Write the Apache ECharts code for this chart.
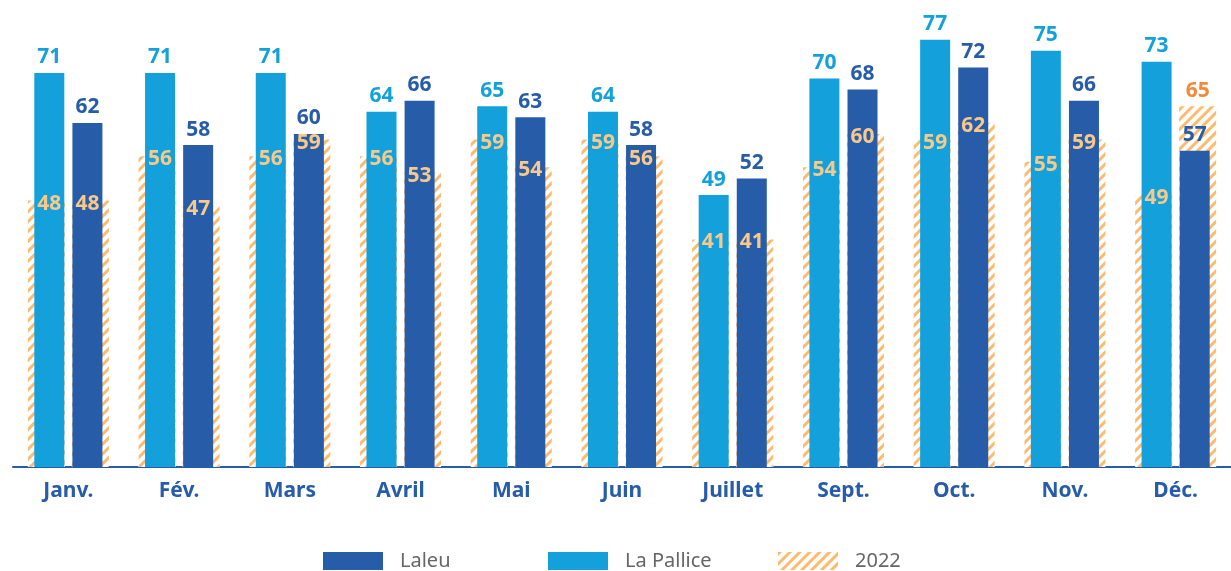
<!DOCTYPE html>
<html>
<head>
<meta charset="utf-8">
<script src="https://cdn.jsdelivr.net/npm/echarts@6/dist/echarts.min.js"></script>
<style>
  html, body { margin: 0; padding: 0; background: #fff; }
  #chart { width: 1231px; height: 571px; }
</style>
</head>
<body>
<div id="chart"></div>
<script>
// mois affichés (pas d'août)
var months = ['Janv.', 'Fév.', 'Mars', 'Avril', 'Mai', 'Juin', 'Juillet', 'Sept.', 'Oct.', 'Nov.', 'Déc.'];
var laPallice = [71, 71, 71, 64, 65, 64, 49, 70, 77, 75, 73];
var laleu = [62, 58, 60, 66, 63, 58, 52, 68, 72, 66, 57];
var pallice2022 = [48, 56, 56, 56, 59, 59, 41, 54, 59, 55, 49];
var laleu2022 = [48, 47, 59, 53, 54, 56, 41, 60, 62, 59, 65];

var FONT = 'Noto Sans';
var DARK = '#265ca8';
var LIGHT = '#14a1db';
var HATCH = '#fdbb70';

var hatch = {
  symbol: 'rect',
  symbolSize: 1,
  color: HATCH,
  dashArrayX: [1, 0],
  dashArrayY: [3, 4],
  rotation: -Math.PI / 4
};

// labels 2022 : dans le haut de la barre, sauf si 2022 dépasse la barre de l'année
function labels2022(vals, cur) {
  return vals.map(function (v, i) {
    if (v > cur[i]) {
      return {
        value: v,
        label: { position: 'top', distance: 5, verticalAlign: 'bottom', offset: [3, 0], color: '#f28a3c' }
      };
    }
    return v;
  });
}

var myChart = echarts.init(document.getElementById('chart'));

var hiddenAxis = function () {
  return { type: 'category', data: months, show: false };
};

var option = {
  backgroundColor: '#fff',
  animation: false,
  grid: { left: 13, right: -7, top: 23, bottom: 104 },
  xAxis: [{
    type: 'category',
    data: months,
    axisLine: { lineStyle: { color: DARK, width: 2 } },
    axisTick: { show: false },
    axisLabel: { color: DARK, fontFamily: FONT, fontWeight: 'bold', fontSize: 21, margin: 14 }
  }, hiddenAxis(), hiddenAxis()],
  yAxis: { type: 'value', min: 0, max: 80, show: false, splitLine: { show: false } },
  legend: [
    { data: ['Laleu'], left: 318 },
    { data: ['La Pallice'], left: 543 },
    { data: ['2022'], left: 773 }
  ].map(function (l) {
    return Object.assign({
      top: 546,
      itemWidth: 60,
      itemHeight: 18,
      icon: 'rect',
      textStyle: { color: '#666', fontFamily: FONT, fontSize: 20, padding: [0, 0, 0, 12] }
    }, l);
  }),
  series: [
    {
      name: '2022', type: 'bar', xAxisIndex: 1, z: 1,
      barWidth: 37, barGap: '19%',
      data: pallice2022,
      itemStyle: { color: '#fff', decal: hatch }
    },
    {
      name: '2022', type: 'bar', xAxisIndex: 1, z: 1,
      barWidth: 37, barGap: '19%',
      data: laleu2022,
      itemStyle: { color: '#fff', decal: hatch }
    },
    {
      name: 'La Pallice', type: 'bar', xAxisIndex: 0, z: 3,
      barWidth: 30, barGap: '27%',
      data: laPallice,
      itemStyle: { color: LIGHT },
      label: { show: true, position: 'top', distance: 5, color: LIGHT, fontFamily: FONT, fontWeight: 'bold', fontSize: 21 }
    },
    {
      name: 'Laleu', type: 'bar', xAxisIndex: 0, z: 3,
      barWidth: 30, barGap: '27%',
      data: laleu,
      itemStyle: { color: DARK },
      label: { show: true, position: 'top', distance: 5, color: DARK, fontFamily: FONT, fontWeight: 'bold', fontSize: 21 }
    },
    // séries transparentes pour les labels 2022, centrés sur les barres de l'année
    {
      type: 'bar', xAxisIndex: 2, z: 5, silent: true,
      barWidth: 30, barGap: '27%',
      data: labels2022(pallice2022, laPallice),
      itemStyle: { color: 'rgba(0,0,0,0)' },
      label: { show: true, position: ['50%', 3], align: 'center', verticalAlign: 'middle', color: '#f9c98a', fontFamily: FONT, fontWeight: 'bold', fontSize: 21 }
    },
    {
      type: 'bar', xAxisIndex: 2, z: 5, silent: true,
      barWidth: 30, barGap: '27%',
      data: labels2022(laleu2022, laleu),
      itemStyle: { color: 'rgba(0,0,0,0)' },
      label: { show: true, position: ['50%', 3], align: 'center', verticalAlign: 'middle', color: '#f9c98a', fontFamily: FONT, fontWeight: 'bold', fontSize: 21 }
    }
  ]
};

myChart.setOption(option);
window.onresize = function () {
  myChart.resize();
};
</script>
</body>
</html>
